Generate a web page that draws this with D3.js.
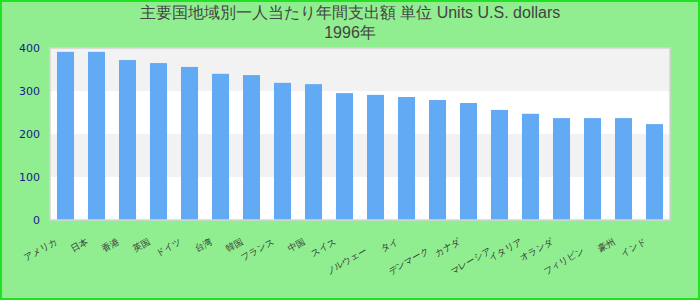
<!DOCTYPE html>
<html>
<head>
<meta charset="utf-8">
<script src="https://cdn.jsdelivr.net/npm/d3@7"></script>
<style>
  body { margin: 0; }
  svg { display: block; }
</style>
</head>
<body>
<div id="chart"></div>
<script>
var titleLines = ["主要国地域別一人当たり年間支出額 単位 Units U.S. dollars", "1996年"];

var categories = ["アメリカ", "日本", "香港", "英国", "ドイツ", "台湾", "韓国", "フランス", "中国", "スイス",
  "ノルウェー", "タイ", "デンマーク", "カナダ", "マレーシア", "イタリア", "オランダ", "フィリピン", "豪州", "インド"];

var values = [391, 391, 372, 365, 356, 340, 337, 319, 316, 295,
  291, 286, 279, 272, 256, 247, 237, 237, 237, 223];

var yTicks = [0, 100, 200, 300, 400];

var svgWidth = 700;
var svgHeight = 300;

var margin = { top: 48, right: 30, bottom: 80, left: 50 };
var width = svgWidth - margin.left - margin.right;
var height = svgHeight - margin.top - margin.bottom;

var svg = d3.select("#chart")
  .append("svg")
  .attr("width", svgWidth)
  .attr("height", svgHeight);

// page background with green frame
svg.append("rect")
  .attr("x", 1)
  .attr("y", 1)
  .attr("width", svgWidth - 2)
  .attr("height", svgHeight - 2)
  .attr("fill", "#90ee90")
  .attr("stroke", "#22e022")
  .attr("stroke-width", 2);

svg.selectAll(".title")
  .data(titleLines)
  .enter()
  .append("text")
  .attr("class", "title")
  .attr("x", svgWidth / 2)
  .attr("y", (d, i) => 18 + i * 20)
  .attr("text-anchor", "middle")
  .attr("font-family", "Liberation Sans, Arial, sans-serif")
  .attr("font-size", "16px")
  .attr("fill", "#444")
  .text(d => d);

var chartGroup = svg.append("g")
  .attr("transform", `translate(${margin.left}, ${margin.top})`);

var xBandScale = d3.scaleBand()
  .domain(categories)
  .range([0, width])
  .paddingInner(0.45)
  .paddingOuter(0.225);

var yLinearScale = d3.scaleLinear()
  .domain([0, 400])
  .range([height, 0]);

// plot background
chartGroup.append("rect")
  .attr("width", width)
  .attr("height", height)
  .attr("fill", "white");

// alternating bands
var bands = d3.pairs(yTicks).filter((p, i) => i % 2 == 1);
chartGroup.selectAll(".band")
  .data(bands)
  .enter()
  .append("rect")
  .attr("class", "band")
  .attr("x", 0)
  .attr("width", width)
  .attr("y", d => yLinearScale(d[1]))
  .attr("height", d => yLinearScale(d[0]) - yLinearScale(d[1]))
  .attr("fill", "#f2f2f2");

chartGroup.selectAll(".bar")
  .data(values)
  .enter()
  .append("rect")
  .attr("class", "bar")
  .attr("x", (d, i) => xBandScale(categories[i]))
  .attr("y", d => yLinearScale(d))
  .attr("width", xBandScale.bandwidth())
  .attr("height", d => height - yLinearScale(d))
  .attr("fill", "#63aaf4");

chartGroup.append("rect")
  .attr("width", width)
  .attr("height", height)
  .attr("fill", "none")
  .attr("stroke", "#d4d4d4")
  .attr("stroke-width", 1.5);

var leftAxis = d3.axisLeft(yLinearScale)
  .tickValues(yTicks)
  .tickSize(0)
  .tickPadding(10);

var yAxisGroup = chartGroup.append("g")
  .call(leftAxis);
yAxisGroup.select(".domain").remove();
yAxisGroup.selectAll("text")
  .attr("font-family", "DejaVu Sans, sans-serif")
  .attr("font-size", "11px")
  .attr("fill", "#1a1a8c");

// x labels, rotated; a label that would run into the previous one drops a row
var labels = chartGroup.selectAll(".xlabel")
  .data(categories)
  .enter()
  .append("text")
  .attr("class", "xlabel")
  .attr("text-anchor", "end")
  .attr("font-family", "DejaVu Sans, sans-serif")
  .attr("font-size", "9px")
  .attr("fill", "#333")
  .text(d => d);

var lastRight = -Infinity;
labels.each(function(d) {
  var len = this.getComputedTextLength();
  var tx = xBandScale(d) + xBandScale.bandwidth() / 2 - 8;
  var left = tx - len * Math.cos(Math.PI / 6);
  var row = 0;
  if (left < lastRight - 3) {
    row = 1;
  } else {
    lastRight = tx;
  }
  d3.select(this)
    .attr("transform", `translate(${tx}, ${height + 23 + row * 9}) rotate(-30)`);
});
</script>
</body>
</html>
